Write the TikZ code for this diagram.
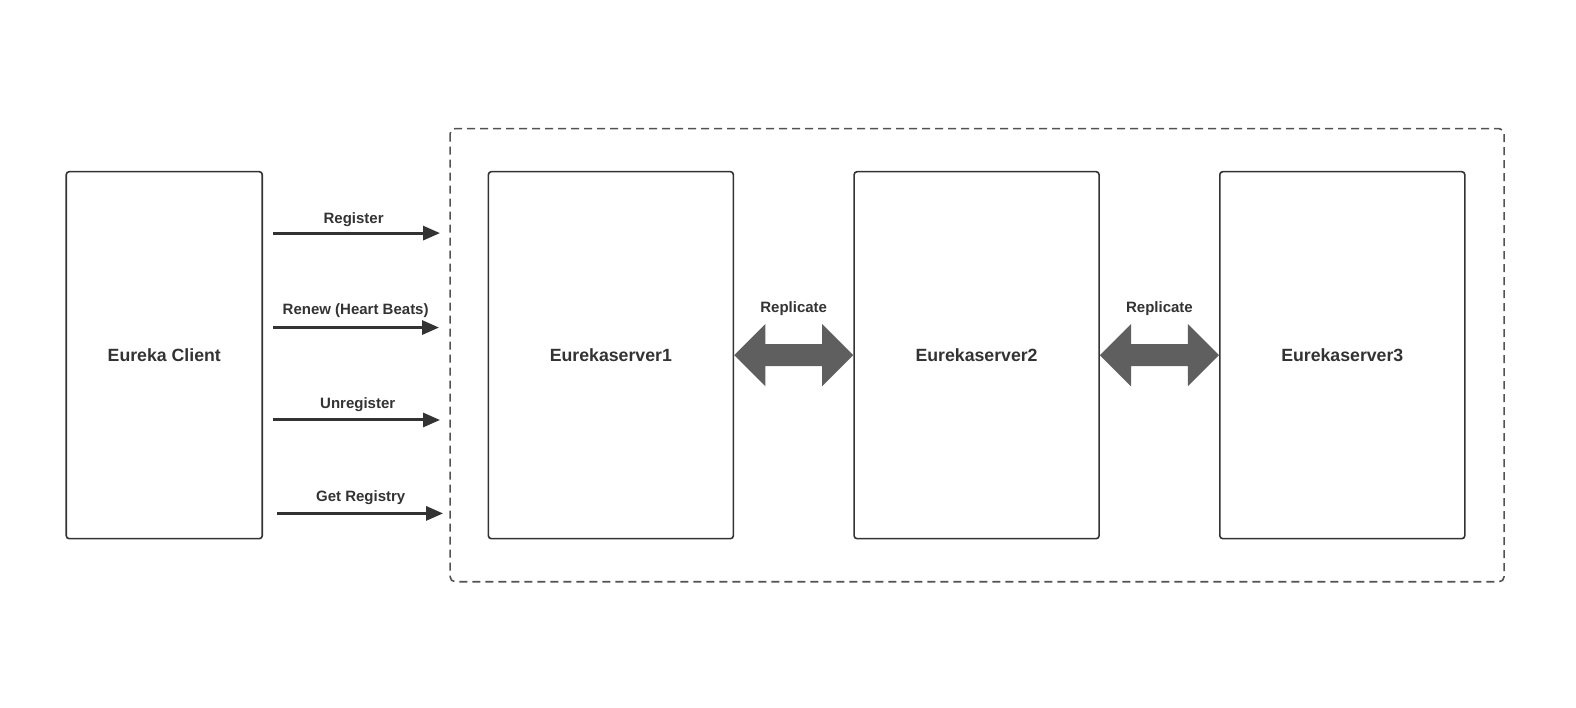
\documentclass[tikz,border=0pt]{standalone}
\usepackage{fontspec}
\setmainfont{Liberation Sans}
\usetikzlibrary{arrows.meta,calc}
\definecolor{edge}{HTML}{333333}
\definecolor{darrow}{HTML}{5F5F5F}
\tikzset{
  box/.style={draw=edge, line width=1.6bp, fill=white, rounded corners=3bp, inner sep=0pt,
    font=\bfseries\fontsize{17.7bp}{20bp}\selectfont, text=edge},
  msg/.style={draw=edge, line width=3bp, -{Triangle[length=17bp,width=14bp]}},
  lbl/.style={font=\bfseries\fontsize{15bp}{17bp}\selectfont, text=edge, inner sep=0pt},
  group/.style={draw=edge!85, line width=1.6bp, dash pattern=on 8bp off 5bp, rounded corners=5bp},
  repl/.style={fill=darrow, draw=none},
}
\begin{document}
\begin{tikzpicture}[x=1.0047bp,y=-1.0047bp]
\useasboundingbox (0,0) rectangle (1568.6,703.7);
\draw[group] (448,128) rectangle (1497,579);
\node[box, minimum width=196bp, minimum height=367bp] (client) at (163.5,353.5) {Eureka Client};
\node[box, minimum width=245bp, minimum height=367bp] (s1) at (608,353.5) {Eurekaserver1};
\node[box, minimum width=245bp, minimum height=367bp] (s2) at (972,353.5) {Eurekaserver2};
\node[box, minimum width=245bp, minimum height=367bp] (s3) at (1336,353.5) {Eurekaserver3};
% connector end points at the group border
\coordinate (r0) at (272,232);  \coordinate (r1) at (438,232);
\coordinate (n0) at (272,326);  \coordinate (n1) at (437,326);
\coordinate (u0) at (272,418);  \coordinate (u1) at (438,418);
\coordinate (g0) at (276,511);  \coordinate (g1) at (441,511);
\draw[msg] (r0) -- (r1);
\draw[msg] (n0) -- (n1);
\draw[msg] (u0) -- (u1);
\draw[msg] (g0) -- (g1);
\node[lbl] (lr) at (352,218.5) {Register};
\node[lbl] (ln) at (354,309) {Renew (Heart Beats)};
\node[lbl] (lu) at (356,402.5) {Unregister};
\node[lbl] (lg) at (359,495) {Get Registry};
% replicate double arrows
\foreach \a/\b/\n in {s1/s2/1, s2/s3/2}{
  \fill[repl] (\a.east) -- ($(\a.east)+(31,-31)$) -- ($(\a.east)+(31,-11)$)
    -- ($(\b.west)+(-31,-11)$) -- ($(\b.west)+(-31,-31)$) -- (\b.west)
    -- ($(\b.west)+(-31,31)$) -- ($(\b.west)+(-31,11)$)
    -- ($(\a.east)+(31,11)$) -- ($(\a.east)+(31,31)$) -- cycle;
  \node[lbl] (rl\n) at ($($(\a.east)!0.5!(\b.west)$)+(0,-46)$) {Replicate};
}
\end{tikzpicture}
\end{document}
